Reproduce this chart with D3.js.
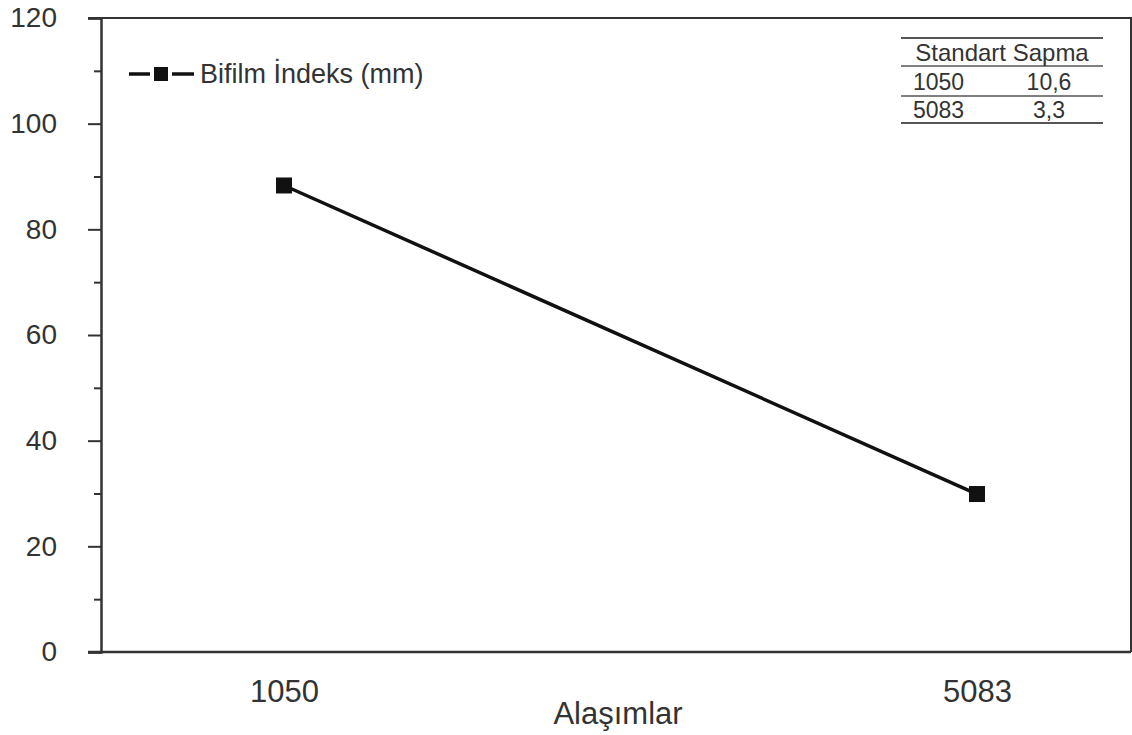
<!DOCTYPE html>
<html>
<head>
<meta charset="utf-8">
<script src="https://cdn.jsdelivr.net/npm/d3@7"></script>
<style>
    body { margin: 0; background: #fff; }
    svg { display: block; font-family: "Liberation Sans", Arial, sans-serif; }
</style>
</head>
<body>
<div id="chart"></div>
<script>
// data
const alloys = ["1050", "5083"];
const bifilmIndex = [88.3, 29.9];
const yTicks = [0, 20, 40, 60, 80, 100, 120];
const yMinorTicks = [10, 30, 50, 70, 90, 110];
const stdHeader = "Standart Sapma";
const stdRows = [["1050", "10,6"], ["5083", "3,3"]];
const seriesName = "Bifilm İndeks (mm)";
const xTitle = "Alaşımlar";

const width = 1132, height = 735;
const margin = { top: 18, right: 1, bottom: 83, left: 101 };

const svg = d3.select("#chart").append("svg")
    .attr("width", width)
    .attr("height", height);

const x = d3.scalePoint()
    .domain(alloys)
    .range([284, 977]);

const y = d3.scaleLinear()
    .domain([0, 120])
    .range([height - margin.bottom, margin.top]);

const plotRight = width - margin.right;

// frame (top and right)
svg.append("path")
    .attr("d", `M${margin.left - 13},${margin.top}H${plotRight}V${y(0)}`)
    .attr("fill", "none")
    .attr("stroke", "#333")
    .attr("stroke-width", 2);

// y axis
const yAxis = svg.append("g")
    .attr("transform", `translate(${margin.left},0)`)
    .call(d3.axisLeft(y).tickValues(yTicks).tickSize(13).tickPadding(31));
yAxis.select(".domain").attr("stroke", "#333").attr("stroke-width", 2.5);
yAxis.selectAll(".tick line").attr("stroke", "#333").attr("stroke-width", 2);
yAxis.selectAll(".tick text").attr("font-size", 28).attr("fill", "#333")
    .attr("font-family", "Liberation Sans, Arial, sans-serif");

const yMinor = svg.append("g")
    .attr("transform", `translate(${margin.left},0)`)
    .call(d3.axisLeft(y).tickValues(yMinorTicks).tickSize(7).tickFormat(""));
yMinor.select(".domain").remove();
yMinor.selectAll(".tick line").attr("stroke", "#333").attr("stroke-width", 2);

// x axis
const xAxis = svg.append("g")
    .attr("transform", `translate(0,${y(0)})`)
    .call(d3.axisBottom(x).tickSize(0).tickPadding(28));
xAxis.select(".domain").attr("d", `M${margin.left - 13},0H${plotRight}`)
    .attr("stroke", "#333").attr("stroke-width", 2.5);
xAxis.selectAll(".tick text").attr("font-size", 31).attr("fill", "#333")
    .attr("font-family", "Liberation Sans, Arial, sans-serif");

svg.append("text")
    .attr("x", 618)
    .attr("y", 724)
    .attr("text-anchor", "middle")
    .attr("font-size", 31)
    .attr("fill", "#333")
    .text(xTitle);

// series line + square markers
const points = alloys.map((a, i) => ({ a, v: bifilmIndex[i] }));
svg.append("path")
    .datum(points)
    .attr("fill", "none")
    .attr("stroke", "#111")
    .attr("stroke-width", 3.5)
    .attr("d", d3.line().x(d => x(d.a)).y(d => y(d.v)));

svg.selectAll(".marker")
    .data(points)
    .enter()
    .append("rect")
    .attr("class", "marker")
    .attr("x", d => x(d.a) - 8)
    .attr("y", d => y(d.v) - 8)
    .attr("width", 16)
    .attr("height", 16)
    .attr("fill", "#111");

// legend
const legend = svg.append("g").attr("transform", "translate(129,74)");
legend.append("line")
    .attr("x1", 0).attr("x2", 21)
    .attr("stroke", "#111").attr("stroke-width", 3.5);
legend.append("line")
    .attr("x1", 43).attr("x2", 65)
    .attr("stroke", "#111").attr("stroke-width", 3.5);
legend.append("rect")
    .attr("x", 25).attr("y", -7).attr("width", 14).attr("height", 14)
    .attr("fill", "#111");
legend.append("text")
    .attr("x", 71)
    .attr("dy", "0.35em")
    .attr("font-size", 27)
    .attr("fill", "#333")
    .text(seriesName);

// standard deviation table
const tbl = svg.append("g").attr("transform", "translate(901,0)");
const tblW = 202;
const ruleYs = [38, 66, 96, 123];
ruleYs.forEach((ry, i) => {
    tbl.append("line")
        .attr("x1", 0).attr("x2", tblW)
        .attr("y1", ry).attr("y2", ry)
        .attr("stroke", "#555")
        .attr("stroke-width", i === 0 || i === ruleYs.length - 1 ? 2 : 1.5);
});
tbl.append("text")
    .attr("x", tblW / 2)
    .attr("y", 61)
    .attr("text-anchor", "middle")
    .attr("font-size", 24)
    .attr("fill", "#333")
    .text(stdHeader);
stdRows.forEach((row, i) => {
    const by = 90 + i * 28;
    tbl.append("text")
        .attr("x", 12).attr("y", by)
        .attr("font-size", 23).attr("fill", "#333")
        .text(row[0]);
    tbl.append("text")
        .attr("x", 148).attr("y", by)
        .attr("text-anchor", "middle")
        .attr("font-size", 23).attr("fill", "#333")
        .text(row[1]);
});
</script>
</body>
</html>
